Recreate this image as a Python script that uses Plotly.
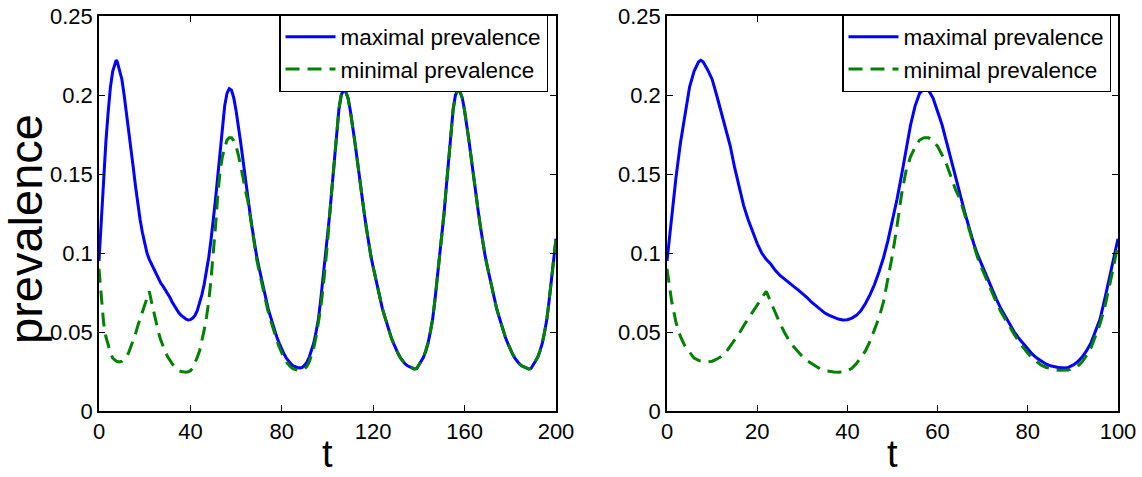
import plotly.graph_objects as go

# ---------------- data ----------------
# early phase, t = 0 .. 100 (shown in both panels)
t_early = [0, 1, 2, 3, 4, 5, 6, 7, 7.5, 8, 9, 10, 11, 12, 13, 14, 15, 16, 17, 18, 19,
           20, 21, 22, 23, 24, 25, 26, 27, 28, 29, 30, 31, 32, 33, 34, 35, 36, 37, 38, 39,
           40, 41, 42, 43, 44, 45, 46, 47, 48, 49, 50, 51, 52, 53, 54, 55, 56, 57, 58, 59,
           60, 61, 62, 63, 64, 65, 66, 67, 68, 69, 70, 71, 72, 73, 74, 75, 76, 77, 78, 79,
           80, 81, 82, 83, 84, 85, 86, 87, 88, 89, 90, 91, 92, 93, 94, 95, 96, 97, 98, 99, 100]

max_early = [0.095, 0.122, 0.148, 0.170, 0.189, 0.205, 0.215, 0.221, 0.222, 0.221, 0.216,
             0.210, 0.200, 0.189, 0.179, 0.168, 0.154, 0.142, 0.130, 0.121, 0.113,
             0.106, 0.100, 0.096, 0.093, 0.089, 0.086, 0.0835, 0.081, 0.079, 0.0768,
             0.0745, 0.072, 0.069, 0.0665, 0.064, 0.062, 0.0605, 0.0592, 0.0582, 0.0576,
             0.0578, 0.0588, 0.0605, 0.0635, 0.068, 0.0735, 0.080, 0.088, 0.097, 0.108,
             0.120, 0.134, 0.149, 0.165, 0.181, 0.193, 0.201, 0.204, 0.203, 0.198,
             0.190, 0.181, 0.170, 0.159, 0.147, 0.136, 0.126, 0.116, 0.106, 0.098,
             0.091, 0.084, 0.077, 0.071, 0.065, 0.060, 0.055, 0.050, 0.046, 0.0425,
             0.039, 0.036, 0.0335, 0.0315, 0.0298, 0.0286, 0.0278, 0.0274, 0.0273, 0.0276,
             0.029, 0.031, 0.034, 0.038, 0.043, 0.050, 0.058, 0.070, 0.083, 0.096, 0.109]

min_early = [0.090, 0.070, 0.056, 0.047, 0.041, 0.037, 0.0335, 0.032, 0.0316, 0.0313, 0.031,
             0.0315, 0.0328, 0.0345, 0.037, 0.041, 0.0445, 0.049, 0.054, 0.0585, 0.063,
             0.0675, 0.072, 0.0758, 0.069, 0.062, 0.0558, 0.050, 0.045, 0.041, 0.0375,
             0.0345, 0.032, 0.030, 0.028, 0.0265, 0.0255, 0.025, 0.0247, 0.0246, 0.0248,
             0.0255, 0.027, 0.030, 0.034, 0.038, 0.044, 0.051, 0.059, 0.069, 0.083,
             0.099, 0.117, 0.137, 0.152, 0.161, 0.167, 0.1715, 0.173, 0.173, 0.171,
             0.1675, 0.162, 0.156, 0.148, 0.140, 0.134, 0.125, 0.115, 0.105, 0.096,
             0.089, 0.082, 0.075, 0.069, 0.063, 0.058, 0.053, 0.0485, 0.044, 0.040,
             0.0365, 0.0335, 0.031, 0.029, 0.0277, 0.0267, 0.026, 0.0258, 0.0257, 0.026,
             0.0268, 0.0282, 0.031, 0.035, 0.040, 0.047, 0.055, 0.065, 0.077, 0.091, 0.106]

# late phase, t = 101 .. 200 (left panel only; both curves coincide here)
t_late = list(range(101, 201))
prev_late = [0.125, 0.142, 0.160, 0.177, 0.191, 0.200, 0.203, 0.202, 0.198,
             0.190, 0.181, 0.170, 0.159, 0.147, 0.136, 0.126, 0.116, 0.106, 0.098,
             0.091, 0.084, 0.077, 0.071, 0.065, 0.060, 0.055, 0.050, 0.046, 0.0425,
             0.039, 0.036, 0.0335, 0.0315, 0.0298, 0.0286, 0.0278, 0.0272, 0.0266, 0.0268,
             0.029, 0.031, 0.034, 0.038, 0.043, 0.050, 0.058, 0.070, 0.083, 0.096, 0.109,
             0.125, 0.142, 0.160, 0.177, 0.191, 0.200, 0.203, 0.202, 0.198,
             0.190, 0.181, 0.170, 0.159, 0.147, 0.136, 0.126, 0.116, 0.106, 0.098,
             0.091, 0.084, 0.077, 0.071, 0.065, 0.060, 0.055, 0.050, 0.046, 0.0425,
             0.039, 0.036, 0.0335, 0.0315, 0.0298, 0.0286, 0.0278, 0.0272, 0.0266, 0.0268,
             0.029, 0.031, 0.034, 0.038, 0.043, 0.050, 0.058, 0.070, 0.083, 0.096, 0.109]

y_ticks = [0, 0.05, 0.1, 0.15, 0.2, 0.25]
y_ticktext = ["0", "0.05", "0.1", "0.15", "0.2", "0.25"]
x_ticks_left = [0, 40, 80, 120, 160, 200]
x_ticks_right = [0, 20, 40, 60, 80, 100]
series_names = ["maximal prevalence", "minimal prevalence"]
y_title = "prevalence"
x_title = "t"

# ---------------- figure ----------------
W, H = 1142, 477
FONT = "Liberation Sans, Arial, Helvetica, sans-serif"
BLUE = "rgb(0,0,255)"
GREEN = "rgb(0,128,0)"
DASH = "14px,8px"

t_full = t_early + t_late
max_full = max_early + prev_late
min_full = min_early + prev_late

fig = go.Figure()
# left panel
fig.add_trace(go.Scatter(x=t_full, y=max_full, mode="lines", name=series_names[0],
                         line=dict(color=BLUE, width=3), xaxis="x", yaxis="y", legend="legend"))
fig.add_trace(go.Scatter(x=t_full, y=min_full, mode="lines", name=series_names[1],
                         line=dict(color=GREEN, width=3, dash=DASH), xaxis="x", yaxis="y",
                         legend="legend"))
# right panel
fig.add_trace(go.Scatter(x=t_early, y=max_early, mode="lines", name=series_names[0],
                         line=dict(color=BLUE, width=3), xaxis="x2", yaxis="y2", legend="legend2"))
fig.add_trace(go.Scatter(x=t_early, y=min_early, mode="lines", name=series_names[1],
                         line=dict(color=GREEN, width=3, dash=DASH), xaxis="x2", yaxis="y2",
                         legend="legend2"))


def px_x(p):
    return p / W


def px_y(p):
    return 1 - p / H


axis_common = dict(showline=True, linecolor="black", linewidth=1.5, mirror="ticks",
                   ticks="inside", ticklen=6, tickwidth=1, tickcolor="black",
                   showgrid=False, zeroline=False, automargin=False,
                   tickfont=dict(family=FONT, size=22, color="black"))

legend_common = dict(xanchor="left", yanchor="top", bgcolor="white", bordercolor="black",
                     borderwidth=1.5, itemwidth=50, tracegroupgap=0,
                     font=dict(family=FONT, size=22.5, color="black"))

title_font_x = dict(family=FONT, size=38, color="black")
title_font_y = dict(family=FONT, size=47, color="black")

fig.update_layout(
    width=W, height=H,
    margin=dict(l=0, r=0, t=0, b=0),
    paper_bgcolor="white", plot_bgcolor="white",
    template=None,
    font=dict(family=FONT, color="black"),
    xaxis=dict(domain=[px_x(99), px_x(556)], range=[0, 200], tickvals=x_ticks_left,
               anchor="y", **axis_common),
    yaxis=dict(domain=[px_y(411), px_y(16)], range=[0, 0.25], tickvals=y_ticks,
               ticktext=y_ticktext, anchor="x", **axis_common),
    xaxis2=dict(domain=[px_x(667), px_x(1118)], range=[0, 100], tickvals=x_ticks_right,
                anchor="y2", **axis_common),
    yaxis2=dict(domain=[px_y(411), px_y(16)], range=[0, 0.25], tickvals=y_ticks,
                ticktext=y_ticktext, anchor="x2", **axis_common),
    legend=dict(x=px_x(279), y=px_y(14), **legend_common),
    legend2=dict(x=px_x(842), y=px_y(14), **legend_common),
    showlegend=True,
    annotations=[
        dict(text=y_title, textangle=-90, showarrow=False,
             xref="paper", yref="paper", x=px_x(25), y=px_y(229),
             xanchor="center", yanchor="middle", font=title_font_y),
        dict(text=x_title, showarrow=False, xref="paper", yref="paper",
             x=px_x(327.5), y=0, xanchor="center", yanchor="bottom",
             font=title_font_x),
        dict(text=x_title, showarrow=False, xref="paper", yref="paper",
             x=px_x(892.5), y=0, xanchor="center", yanchor="bottom",
             font=title_font_x),
    ],
)

fig.write_html("out.html", config={"displayModeBar": False},
               post_script="document.body.style.margin='0';document.body.style.overflow='hidden';")
